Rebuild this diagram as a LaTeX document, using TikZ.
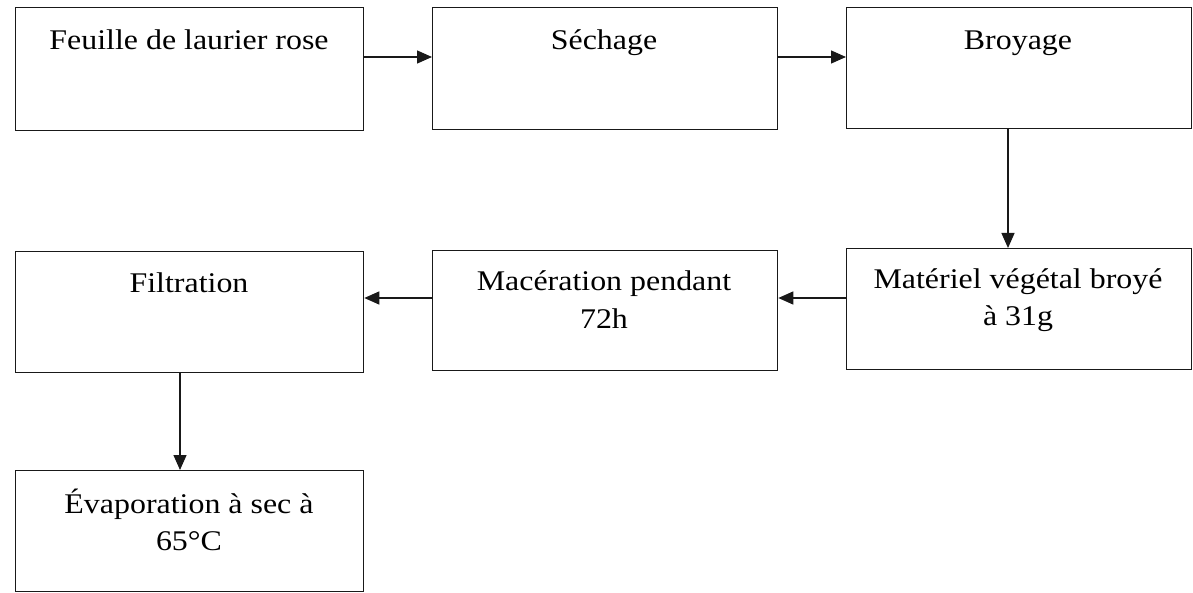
\documentclass[tikz,border=0pt]{standalone}
\usepackage{fontspec}
\setmainfont{Liberation Serif}[FakeStretch=1.12]
\usetikzlibrary{arrows.meta}
\begin{document}
\begin{tikzpicture}[x=1pt,y=-1pt,
  box/.style={draw=black!90, line width=1.3pt, rectangle, inner sep=0pt, anchor=north west},
  lbl/.style={anchor=base, align=center, inner sep=0pt, font=\fontsize{28.5}{37}\selectfont},
  arr/.style={draw=black!90, line width=1.3pt, -{Triangle[length=15pt,width=13pt]}}]
\useasboundingbox (0,0) rectangle (1193,593);
% boxes
\node[box, minimum width=348pt, minimum height=123pt] (b1) at (15,7) {};
\node[box, minimum width=345pt, minimum height=122pt] (b2) at (432,7) {};
\node[box, minimum width=345pt, minimum height=121pt] (b3) at (846,7) {};
\node[box, minimum width=348pt, minimum height=121pt] (b4) at (15,251) {};
\node[box, minimum width=345pt, minimum height=120pt] (b5) at (432,250) {};
\node[box, minimum width=345pt, minimum height=121pt] (b6) at (846,248) {};
\node[box, minimum width=348pt, minimum height=121pt] (b7) at (15,470) {};
% labels (multi-line: anchor base = last line)
\node[lbl] (t1) at (189,50) {Feuille de laurier rose};
\node[lbl] (t2) at (604,50) {Séchage};
\node[lbl] (t3) at (1018,50) {Broyage};
\node[lbl] (t4) at (189,293) {Filtration};
\node[lbl] (t5) at (604,328) {Macération pendant\\72h};
\node[lbl] (t6) at (1018,326) {Matériel végétal broyé\\à 31g};
\node[lbl] (t7) at (189,550) {Évaporation à sec à\\65°C};
% connector rows/columns
\coordinate (r1) at (0,57);
\coordinate (r2) at (0,298);
\coordinate (c1) at (1008,0);
\coordinate (c2) at (180,0);
\draw[arr] (b1.east |- r1) -- (b2.west |- r1);
\draw[arr] (b2.east |- r1) -- (b3.west |- r1);
\draw[arr] (c1 |- b3.south) -- (c1 |- b6.north);
\draw[arr] (b6.west |- r2) -- (b5.east |- r2);
\draw[arr] (b5.west |- r2) -- (b4.east |- r2);
\draw[arr] (c2 |- b4.south) -- (c2 |- b7.north);
\end{tikzpicture}
\end{document}
